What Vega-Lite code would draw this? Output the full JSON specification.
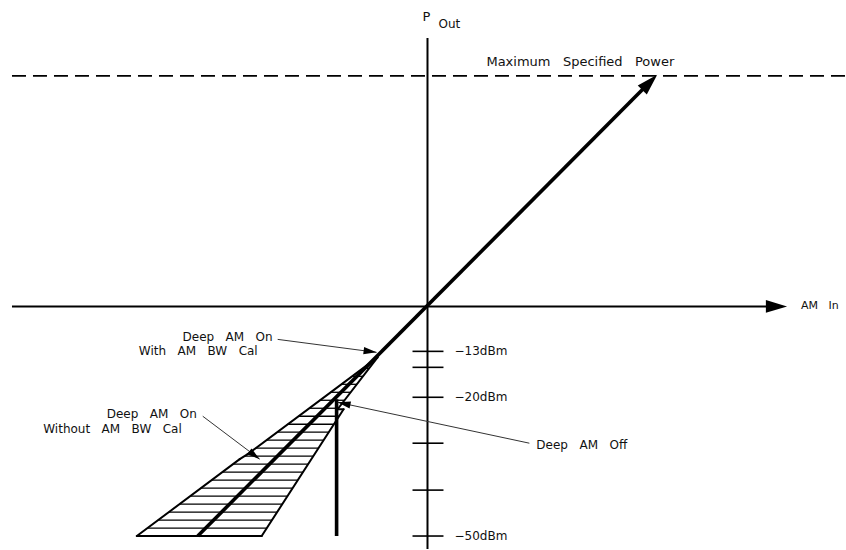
{
  "$schema": "https://vega.github.io/schema/vega-lite/v6.json",
  "width": 846,
  "height": 550,
  "autosize": {"type": "fit", "contains": "padding"},
  "padding": 0,
  "background": "white",
  "config": {"view": {"stroke": null}},
  "datasets": {
    "axes": [
      {"u": -416, "v": 0, "u2": 352, "v2": 0},
      {"u": 0, "v": 269, "u2": 0, "v2": -243}
    ],
    "dashed": [
      {"u": -416, "v": 231, "u2": 418, "v2": 231}
    ],
    "thick": [
      {"u": -230, "v": -230, "u2": 222, "v2": 224},
      {"u": -91, "v": -93, "u2": -91, "v2": -230}
    ],
    "ticks": [
      {"u": -15, "u2": 16, "v": -45},
      {"u": -15, "u2": 16, "v": -61},
      {"u": -15, "u2": 16, "v": -91},
      {"u": -15, "u2": 16, "v": -137},
      {"u": -15, "u2": 16, "v": -184},
      {"u": -15, "u2": 16, "v": -230}
    ],
    "outline": [
      {"u": -50, "v": -51, "u2": -180, "v2": -148},
      {"u": -180, "v": -148, "u2": -188, "v2": -153},
      {"u": -188, "v": -153, "u2": -291, "v2": -230},
      {"u": -291, "v": -230, "u2": -166, "v2": -230},
      {"u": -166, "v": -230, "u2": -84, "v2": -103},
      {"u": -84, "v": -103, "u2": -90, "v2": -103},
      {"u": -90, "v": -103, "u2": -50, "v2": -51}
    ],
    "hatch": [
      {"v": -230, "u": -291.0, "u2": -166.0},
      {"v": -222, "u": -280.3, "u2": -160.8},
      {"v": -214, "u": -269.6, "u2": -155.7},
      {"v": -206, "u": -258.9, "u2": -150.5},
      {"v": -198, "u": -248.2, "u2": -145.3},
      {"v": -190, "u": -237.5, "u2": -140.2},
      {"v": -182, "u": -226.8, "u2": -135.0},
      {"v": -174, "u": -216.1, "u2": -129.8},
      {"v": -166, "u": -205.4, "u2": -124.7},
      {"v": -158, "u": -194.7, "u2": -119.5},
      {"v": -150, "u": -182.7, "u2": -114.3},
      {"v": -142, "u": -172.0, "u2": -109.2},
      {"v": -134, "u": -161.2, "u2": -104.0},
      {"v": -126, "u": -150.5, "u2": -98.9},
      {"v": -118, "u": -139.8, "u2": -93.7},
      {"v": -110, "u": -129.1, "u2": -88.5},
      {"v": -102, "u": -118.4, "u2": -89.2},
      {"v": -94, "u": -107.6, "u2": -83.1},
      {"v": -86, "u": -96.9, "u2": -76.9},
      {"v": -78, "u": -86.2, "u2": -70.8},
      {"v": -70, "u": -75.5, "u2": -64.6},
      {"v": -62, "u": -64.7, "u2": -58.5},
      {"v": -54, "u": -54.0, "u2": -52.3}
    ],
    "leaders": [
      {"u": -150, "v": -33, "u2": -51, "v2": -46},
      {"u": -225, "v": -110, "u2": -168, "v2": -153},
      {"u": 102, "v": -137, "u2": -90, "v2": -96}
    ],
    "bigHeads": [
      {"u": 360, "v": 0, "dir": 0},
      {"u": 230, "v": 232, "dir": 314.8}
    ],
    "smallHeads": [
      {"u": -51, "v": -46, "dir": 7.5},
      {"u": -168, "v": -153, "dir": 37},
      {"u": -90, "v": -96, "dir": 192}
    ],
    "textLeft": [
      {"u": 11, "v": 283, "label": "Out"},
      {"u": 27, "v": -45, "label": "−13dBm"},
      {"u": 27, "v": -91, "label": "−20dBm"},
      {"u": 27, "v": -230, "label": "−50dBm"},
      {"u": 109, "v": -139, "label": "Deep\u00a0\u00a0\u00a0AM\u00a0\u00a0\u00a0Off"}
    ],
    "textAxis": [
      {"u": 374, "v": 0, "label": "AM\u00a0\u00a0\u00a0In"}
    ],
    "textMax": [
      {"u": 59, "v": 245, "label": "Maximum\u00a0\u00a0\u00a0Specified\u00a0\u00a0\u00a0Power"}
    ],
    "textRight": [
      {"u": -155, "v": -31, "label": "Deep\u00a0\u00a0\u00a0AM\u00a0\u00a0\u00a0On"},
      {"u": -170, "v": -45, "label": "With\u00a0\u00a0\u00a0AM\u00a0\u00a0\u00a0BW\u00a0\u00a0\u00a0Cal"},
      {"u": -231, "v": -108, "label": "Deep\u00a0\u00a0\u00a0AM\u00a0\u00a0\u00a0On"},
      {"u": -246, "v": -123, "label": "Without\u00a0\u00a0\u00a0AM\u00a0\u00a0\u00a0BW\u00a0\u00a0\u00a0Cal"}
    ],
    "textP": [
      {"u": -1, "v": 290, "label": "P"}
    ]
  },
  "encoding": {
    "x": {"field": "u", "type": "quantitative", "scale": {"domain": [-428, 418], "nice": false, "zero": false}, "axis": null},
    "y": {"field": "v", "type": "quantitative", "scale": {"domain": [-243, 307], "nice": false, "zero": false}, "axis": null}
  },
  "layer": [
    {
      "data": {"name": "dashed"},
      "mark": {"type": "rule", "color": "black", "strokeWidth": 1.6, "strokeDash": [14, 7]},
      "encoding": {"x2": {"field": "u2"}, "y2": {"field": "v2"}}
    },
    {
      "data": {"name": "axes"},
      "mark": {"type": "rule", "color": "black", "strokeWidth": 2},
      "encoding": {"x2": {"field": "u2"}, "y2": {"field": "v2"}}
    },
    {
      "data": {"name": "ticks"},
      "mark": {"type": "rule", "color": "black", "strokeWidth": 1.6},
      "encoding": {"x2": {"field": "u2"}}
    },
    {
      "data": {"name": "hatch"},
      "mark": {"type": "rule", "color": "black", "strokeWidth": 1.3},
      "encoding": {"x2": {"field": "u2"}}
    },
    {
      "data": {"name": "outline"},
      "mark": {"type": "rule", "color": "black", "strokeWidth": 2, "strokeCap": "round"},
      "encoding": {"x2": {"field": "u2"}, "y2": {"field": "v2"}}
    },
    {
      "data": {"name": "thick"},
      "mark": {"type": "rule", "color": "black", "strokeWidth": 3.6},
      "encoding": {"x2": {"field": "u2"}, "y2": {"field": "v2"}}
    },
    {
      "data": {"name": "leaders"},
      "mark": {"type": "rule", "color": "#333333", "strokeWidth": 1},
      "encoding": {"x2": {"field": "u2"}, "y2": {"field": "v2"}}
    },
    {
      "data": {"name": "bigHeads"},
      "mark": {"type": "point", "shape": "M0,0 L-2,-0.6 L-2,0.6 Z", "filled": true, "color": "black", "opacity": 1, "size": 450, "strokeWidth": 0},
      "encoding": {"angle": {"field": "dir", "type": "quantitative", "scale": null}}
    },
    {
      "data": {"name": "smallHeads"},
      "mark": {"type": "point", "shape": "M0,0 L-2,-0.55 L-2,0.55 Z", "filled": true, "color": "black", "opacity": 1, "size": 169, "strokeWidth": 0},
      "encoding": {"angle": {"field": "dir", "type": "quantitative", "scale": null}}
    },
    {
      "data": {"name": "textLeft"},
      "mark": {"type": "text", "align": "left", "baseline": "middle", "font": "DejaVu Sans", "fontSize": 12, "color": "#111111"},
      "encoding": {"text": {"field": "label"}}
    },
    {
      "data": {"name": "textAxis"},
      "mark": {"type": "text", "align": "left", "baseline": "middle", "font": "DejaVu Sans", "fontSize": 11, "color": "#111111"},
      "encoding": {"text": {"field": "label"}}
    },
    {
      "data": {"name": "textMax"},
      "mark": {"type": "text", "align": "left", "baseline": "middle", "font": "DejaVu Sans", "fontSize": 13, "color": "#111111"},
      "encoding": {"text": {"field": "label"}}
    },
    {
      "data": {"name": "textRight"},
      "mark": {"type": "text", "align": "right", "baseline": "middle", "font": "DejaVu Sans", "fontSize": 12, "color": "#111111"},
      "encoding": {"text": {"field": "label"}}
    },
    {
      "data": {"name": "textP"},
      "mark": {"type": "text", "align": "center", "baseline": "middle", "font": "DejaVu Sans", "fontSize": 13, "color": "#111111"},
      "encoding": {"text": {"field": "label"}}
    }
  ]
}
